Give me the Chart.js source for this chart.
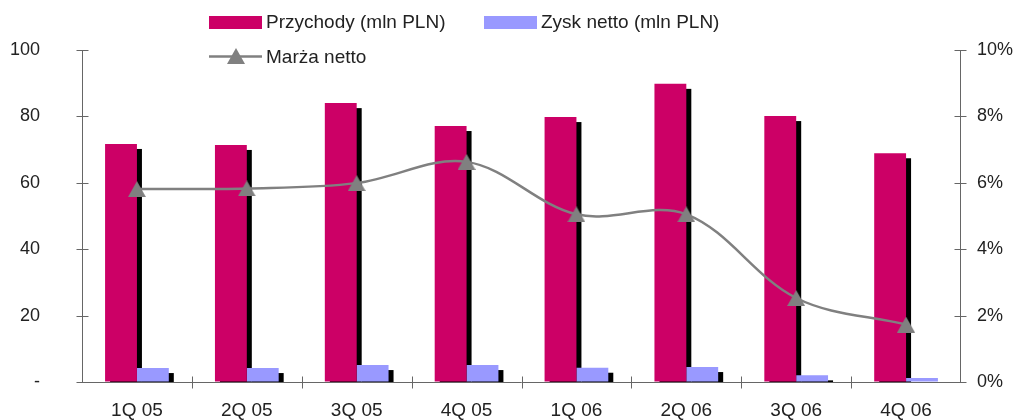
<!DOCTYPE html>
<html>
<head>
<meta charset="utf-8">
<script src="https://cdn.jsdelivr.net/npm/chart.js@4"></script>
<style>
  html, body { margin: 0; padding: 0; background: #fff; }
  #wrap { width: 1013px; height: 420px; }
</style>
</head>
<body>
<div id="wrap"><canvas id="finChart" width="1013" height="420"></canvas></div>
<script>
// quarters and reported figures
const quarters = ['1Q 05', '2Q 05', '3Q 05', '4Q 05', '1Q 06', '2Q 06', '3Q 06', '4Q 06'];
const revenue = [71.7, 71.4, 84.0, 77.1, 79.8, 89.8, 80.1, 68.9];   // mln PLN
const netProfit = [4.2, 4.2, 5.1, 5.1, 4.3, 4.5, 2.0, 1.2];        // mln PLN
const netMargin = [5.81, 5.83, 5.99, 6.63, 5.05, 5.05, 2.53, 1.73]; // %
const leftTicks = [0, 20, 40, 60, 80, 100];
const rightTicks = [0, 2, 4, 6, 8, 10];

const RED = '#CC0066';
const BLUE = '#9999FF';
const GREY = '#808080';
const TEXT = '#222';
const FONT = "'Liberation Sans', Arial, Helvetica, sans-serif";

Chart.defaults.font.family = FONT;
Chart.defaults.color = TEXT;

// triangle marker, centred in its box
function makeTriangle() {
    const c = document.createElement('canvas');
    c.width = 18;
    c.height = 16;
    const g = c.getContext('2d');
    g.fillStyle = GREY;
    g.beginPath();
    g.moveTo(9, 0);
    g.lineTo(18, 16);
    g.lineTo(0, 16);
    g.closePath();
    g.fill();
    return c;
}
const triangle = makeTriangle();

// hard black drop shadow under every bar, painted before any bar
const barShadow = {
    id: 'barShadow',
    beforeDatasetsDraw(chart) {
        const {ctx, chartArea: a} = chart;
        ctx.save();
        ctx.beginPath();
        ctx.rect(a.left, a.top, a.right - a.left, a.bottom - a.top);
        ctx.clip();
        ctx.fillStyle = '#000';
        chart.getSortedVisibleDatasetMetas().forEach(meta => {
            if (meta.type !== 'bar') return;
            meta.data.forEach(bar => {
                const p = bar.getProps(['x', 'y', 'base', 'width']);
                ctx.fillRect(p.x - p.width / 2 + 5, p.y + 5, p.width, p.base - p.y);
            });
        });
        ctx.restore();
    }
};

// axis lines with ticks crossing them
const axisLines = {
    id: 'axisLines',
    afterDatasetsDraw(chart) {
        const {ctx, chartArea: a, scales} = chart;
        const x = scales.x, y = scales.y, y1 = scales.y1;
        ctx.save();
        ctx.strokeStyle = '#666';
        ctx.lineWidth = 1;
        ctx.beginPath();
        const l = Math.round(a.left) + 0.5;
        const r = Math.round(a.right) - 0.5;
        const b = Math.round(a.bottom) + 0.5;
        ctx.moveTo(l, a.top); ctx.lineTo(l, b);
        ctx.moveTo(r, a.top); ctx.lineTo(r, b);
        ctx.moveTo(l, b); ctx.lineTo(r, b);
        y.ticks.forEach((t, i) => {
            const py = Math.round(y.getPixelForTick(i)) + 0.5;
            ctx.moveTo(l - 6, py); ctx.lineTo(l + 6, py);
        });
        y1.ticks.forEach((t, i) => {
            const py = Math.round(y1.getPixelForTick(i)) + 0.5;
            ctx.moveTo(r - 6, py); ctx.lineTo(r + 6, py);
        });
        const step = x.getPixelForValue(1) - x.getPixelForValue(0);
        for (let i = 1; i < quarters.length; i++) {
            const px = Math.round(x.getPixelForValue(i) - step / 2) + 0.5;
            ctx.moveTo(px, b - 6); ctx.lineTo(px, b + 6);
        }
        ctx.stroke();
        ctx.restore();
    }
};

// legend in two rows above the plot
const topLegend = {
    id: 'topLegend',
    afterDraw(chart) {
        const ctx = chart.ctx;
        const ds = chart.data.datasets;
        ctx.save();
        ctx.font = '19px ' + FONT;
        ctx.textBaseline = 'middle';

        ctx.fillStyle = ds[0].backgroundColor;
        ctx.fillRect(209, 16, 53, 13);
        ctx.fillStyle = TEXT;
        ctx.fillText(ds[0].label, 266, 23);

        ctx.fillStyle = ds[1].backgroundColor;
        ctx.fillRect(484, 16, 53, 13);
        ctx.fillStyle = TEXT;
        ctx.fillText(ds[1].label, 541, 23);

        ctx.strokeStyle = GREY;
        ctx.lineWidth = 2.5;
        ctx.beginPath();
        ctx.moveTo(209, 56.5);
        ctx.lineTo(262, 56.5);
        ctx.stroke();
        ctx.drawImage(triangle, 236 - 9, 56 - 8);
        ctx.fillStyle = TEXT;
        ctx.fillText(ds[2].label, 266, 58);
        ctx.restore();
    }
};

// invisible tick marks: they only push the labels away from the axis
const hiddenGrid = (len) => ({
    display: true,
    drawOnChartArea: false,
    drawTicks: true,
    tickLength: len,
    tickColor: 'rgba(0,0,0,0)',
    color: 'rgba(0,0,0,0)'
});

const ctx = document.getElementById('finChart').getContext('2d');

window.finChart = new Chart(ctx, {
    data: {
        labels: quarters,
        datasets: [
            {
                type: 'bar',
                label: 'Przychody (mln PLN)',
                data: revenue,
                backgroundColor: RED,
                yAxisID: 'y',
                order: 1,
                categoryPercentage: 0.58,
                barPercentage: 1.0
            },
            {
                type: 'bar',
                label: 'Zysk netto (mln PLN)',
                data: netProfit,
                backgroundColor: BLUE,
                yAxisID: 'y',
                order: 2,
                categoryPercentage: 0.58,
                barPercentage: 1.0
            },
            {
                type: 'line',
                label: 'Marża netto',
                data: netMargin,
                yAxisID: 'y1',
                order: 0,
                borderColor: GREY,
                borderWidth: 2.5,
                tension: 0.35,
                pointStyle: triangle,
                pointRadius: 9,
                clip: false
            }
        ]
    },
    options: {
        responsive: false,
        devicePixelRatio: 1,
        animation: false,
        layout: { padding: { top: 50, left: 0, right: 0, bottom: 0 } },
        plugins: {
            legend: { display: false },
            tooltip: { enabled: false }
        },
        scales: {
            x: {
                grid: hiddenGrid(17),
                border: { display: false },
                ticks: { font: { size: 19 }, padding: 0, maxRotation: 0, color: TEXT },
                afterFit: (s) => { s.height = 38; }
            },
            y: {
                position: 'left',
                min: 0,
                max: 100,
                afterBuildTicks: (s) => { s.ticks = leftTicks.map(v => ({ value: v })); },
                grid: hiddenGrid(42),
                border: { display: false },
                ticks: {
                    font: { size: 18 },
                    padding: 0,
                    color: TEXT,
                    callback: (v) => v === 0 ? '-' : v
                },
                afterFit: (s) => { s.width = 82; }
            },
            y1: {
                position: 'right',
                min: 0,
                max: 10,
                afterBuildTicks: (s) => { s.ticks = rightTicks.map(v => ({ value: v })); },
                grid: hiddenGrid(16),
                border: { display: false },
                ticks: {
                    font: { size: 18 },
                    padding: 0,
                    color: TEXT,
                    callback: (v) => v + '%'
                },
                afterFit: (s) => { s.width = 52; }
            }
        }
    },
    plugins: [barShadow, axisLines, topLegend]
});
</script>
</body>
</html>
